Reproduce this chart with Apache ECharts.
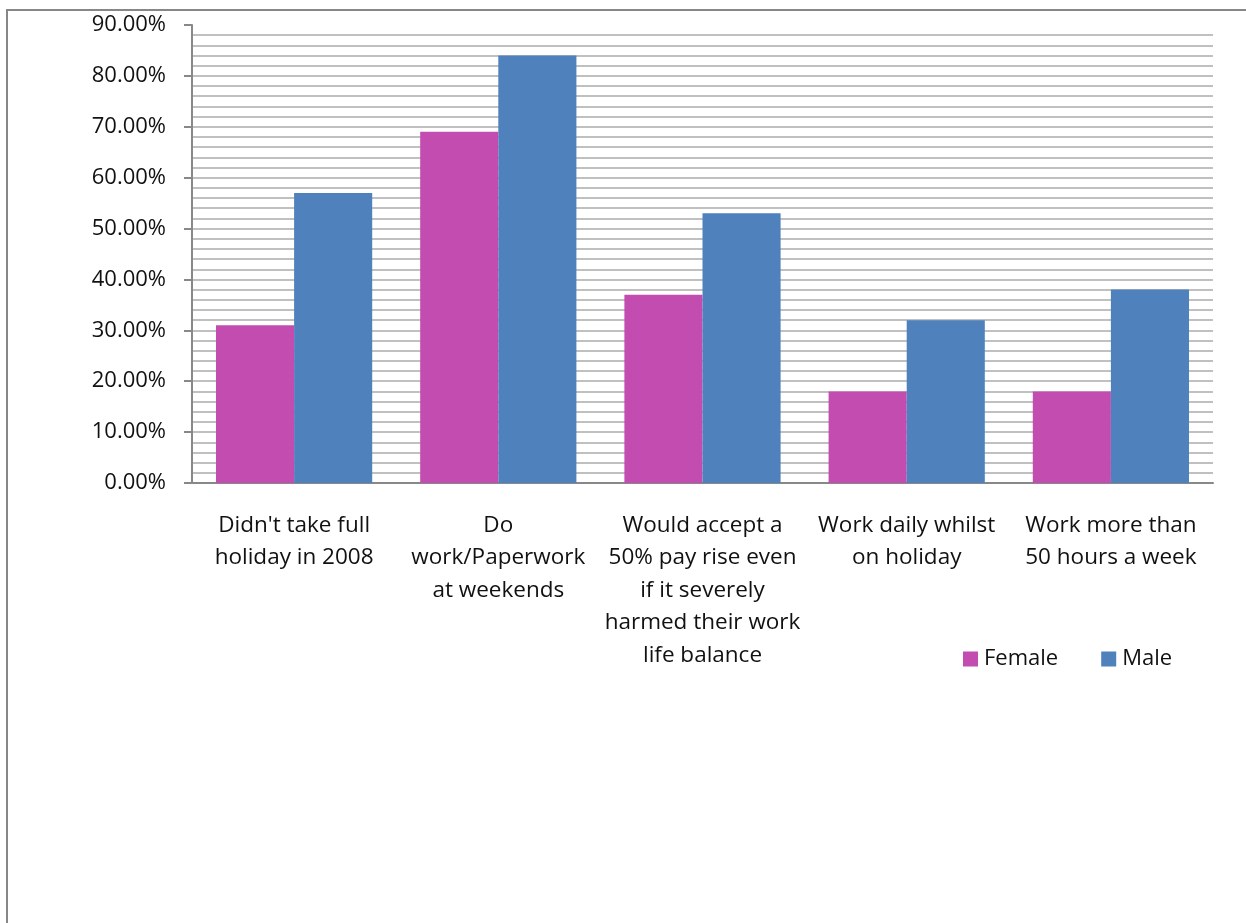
<!DOCTYPE html>
<html>
<head>
<meta charset="utf-8">
<script src="https://cdn.jsdelivr.net/npm/echarts@6/dist/echarts.min.js"></script>
<style>
  html, body { margin: 0; padding: 0; background: #fff; }
  #chart { width: 1246px; height: 923px; }
</style>
</head>
<body>
<div id="chart"></div>
<script>
// Survey categories (line breaks as shown under each group)
const categories = [
  "Didn't take full\nholiday in 2008",
  "Do\nwork/Paperwork\nat weekends",
  "Would accept a\n50% pay rise even\nif it severely\nharmed their work\nlife balance",
  "Work daily whilst\non holiday",
  "Work more than\n50 hours a week"
];
// Share of respondents, in percent
const femaleValues = [31, 69, 37, 18, 18];
const maleValues = [57, 84, 53, 32, 38];
const seriesNames = ["Female", "Male"];

const FONT = '"Open Sans", Lato, sans-serif';
const gridColors = [];
for (let i = 0; i < 9; i++) gridColors.push('#c0c0c0');
gridColors.push('rgba(0,0,0,0)'); // no line along the top tick

const chart = echarts.init(document.getElementById('chart'));
chart.setOption({
  animation: false,
  backgroundColor: '#fff',
  graphic: [{
    type: 'rect',
    shape: { x: 7, y: 10, width: 1400, height: 1100 },
    style: { fill: 'none', stroke: '#878787', lineWidth: 2 },
    silent: true,
    z: -1
  }],
  grid: { left: 192, right: 33, top: 25, bottom: 440, containLabel: false },
  legend: {
    left: 958, top: 643,
    itemWidth: 15, itemHeight: 15, itemGap: 43,
    icon: 'rect',
    textStyle: { fontFamily: FONT, fontSize: 22, color: '#111', padding: [0, 0, 0, 1] },
    data: seriesNames
  },
  xAxis: {
    type: 'category',
    data: categories,
    axisLine: { lineStyle: { color: '#888', width: 2 } },
    axisTick: { show: false },
    axisLabel: {
      interval: 0, margin: 26,
      fontFamily: FONT, fontSize: 22.5, color: '#111',
      lineHeight: 32.5, align: 'center'
    },
    splitLine: { show: false }
  },
  yAxis: {
    type: 'value',
    min: 0, max: 90, interval: 10,
    axisLine: { show: true, lineStyle: { color: '#888', width: 2 } },
    axisTick: { show: true, length: 8, lineStyle: { color: '#888', width: 2 } },
    axisLabel: {
      margin: 26, fontFamily: FONT, fontSize: 22, color: '#111',
      formatter: v => v.toFixed(2) + '%'
    },
    splitLine: { show: true, lineStyle: { color: gridColors, width: 2 } },
    minorTick: { show: false, splitNumber: 5 },
    minorSplitLine: { show: true, lineStyle: { color: '#c0c0c0', width: 2 } }
  },
  series: [
    {
      name: seriesNames[0], type: 'bar', data: femaleValues,
      itemStyle: { color: '#C34CB1' },
      barGap: '0%', barCategoryGap: '23.5%'
    },
    {
      name: seriesNames[1], type: 'bar', data: maleValues,
      itemStyle: { color: '#4F81BD' },
      barGap: '0%', barCategoryGap: '23.5%'
    }
  ]
});
</script>
</body>
</html>
